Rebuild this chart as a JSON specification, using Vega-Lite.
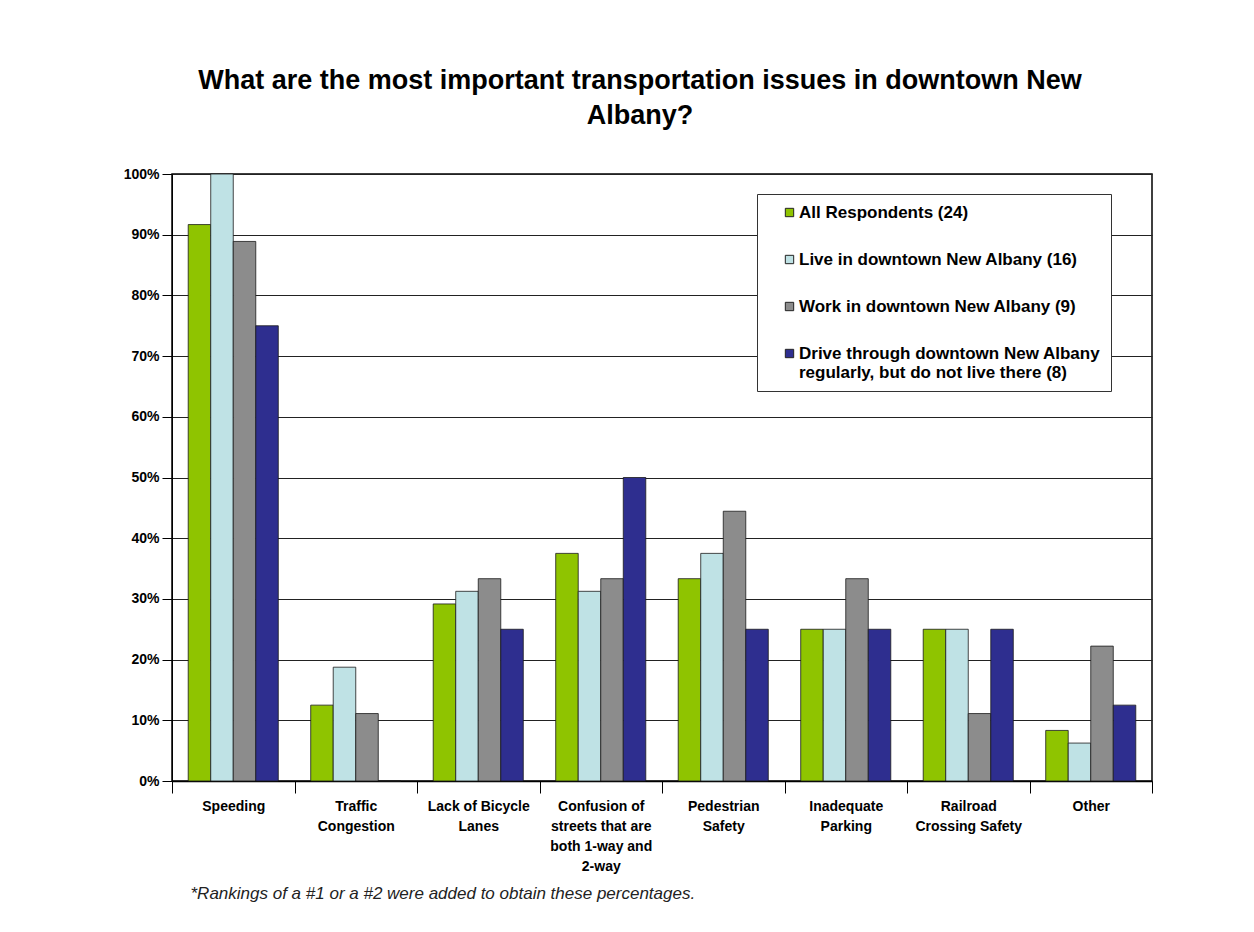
{
  "$schema": "https://vega.github.io/schema/vega-lite/v6.json",
  "autosize": {"type": "none"},
  "width": 980,
  "height": 607,
  "padding": {"left": 172, "top": 174, "right": 102, "bottom": 151},
  "background": "white",
  "title": {
    "text": ["What are the most important transportation issues in downtown New", "Albany?"],
    "font": "Liberation Sans",
    "fontSize": 27,
    "fontWeight": "bold",
    "color": "black",
    "anchor": "middle",
    "dx": -22,
    "offset": 37,
    "lineHeight": 35
  },
  "data": {
    "values": [
      {"issue": "Speeding", "group": "All Respondents (24)", "pct": 0.9167},
      {"issue": "Speeding", "group": "Live in downtown New Albany (16)", "pct": 1.0},
      {"issue": "Speeding", "group": "Work in downtown New Albany (9)", "pct": 0.8889},
      {"issue": "Speeding", "group": "Drive through downtown New Albany regularly, but do not live there (8)", "pct": 0.75},
      {"issue": "Traffic Congestion", "group": "All Respondents (24)", "pct": 0.125},
      {"issue": "Traffic Congestion", "group": "Live in downtown New Albany (16)", "pct": 0.1875},
      {"issue": "Traffic Congestion", "group": "Work in downtown New Albany (9)", "pct": 0.1111},
      {"issue": "Traffic Congestion", "group": "Drive through downtown New Albany regularly, but do not live there (8)", "pct": 0.0},
      {"issue": "Lack of Bicycle Lanes", "group": "All Respondents (24)", "pct": 0.2917},
      {"issue": "Lack of Bicycle Lanes", "group": "Live in downtown New Albany (16)", "pct": 0.3125},
      {"issue": "Lack of Bicycle Lanes", "group": "Work in downtown New Albany (9)", "pct": 0.3333},
      {"issue": "Lack of Bicycle Lanes", "group": "Drive through downtown New Albany regularly, but do not live there (8)", "pct": 0.25},
      {"issue": "Confusion of streets that are both 1-way and 2-way", "group": "All Respondents (24)", "pct": 0.375},
      {"issue": "Confusion of streets that are both 1-way and 2-way", "group": "Live in downtown New Albany (16)", "pct": 0.3125},
      {"issue": "Confusion of streets that are both 1-way and 2-way", "group": "Work in downtown New Albany (9)", "pct": 0.3333},
      {"issue": "Confusion of streets that are both 1-way and 2-way", "group": "Drive through downtown New Albany regularly, but do not live there (8)", "pct": 0.5},
      {"issue": "Pedestrian Safety", "group": "All Respondents (24)", "pct": 0.3333},
      {"issue": "Pedestrian Safety", "group": "Live in downtown New Albany (16)", "pct": 0.375},
      {"issue": "Pedestrian Safety", "group": "Work in downtown New Albany (9)", "pct": 0.4444},
      {"issue": "Pedestrian Safety", "group": "Drive through downtown New Albany regularly, but do not live there (8)", "pct": 0.25},
      {"issue": "Inadequate Parking", "group": "All Respondents (24)", "pct": 0.25},
      {"issue": "Inadequate Parking", "group": "Live in downtown New Albany (16)", "pct": 0.25},
      {"issue": "Inadequate Parking", "group": "Work in downtown New Albany (9)", "pct": 0.3333},
      {"issue": "Inadequate Parking", "group": "Drive through downtown New Albany regularly, but do not live there (8)", "pct": 0.25},
      {"issue": "Railroad Crossing Safety", "group": "All Respondents (24)", "pct": 0.25},
      {"issue": "Railroad Crossing Safety", "group": "Live in downtown New Albany (16)", "pct": 0.25},
      {"issue": "Railroad Crossing Safety", "group": "Work in downtown New Albany (9)", "pct": 0.1111},
      {"issue": "Railroad Crossing Safety", "group": "Drive through downtown New Albany regularly, but do not live there (8)", "pct": 0.25},
      {"issue": "Other", "group": "All Respondents (24)", "pct": 0.0833},
      {"issue": "Other", "group": "Live in downtown New Albany (16)", "pct": 0.0625},
      {"issue": "Other", "group": "Work in downtown New Albany (9)", "pct": 0.2222},
      {"issue": "Other", "group": "Drive through downtown New Albany regularly, but do not live there (8)", "pct": 0.125}
    ]
  },
  "mark": {"type": "bar", "stroke": "#1a1a1a", "strokeWidth": 0.8},
  "encoding": {
    "x": {
      "field": "issue",
      "type": "nominal",
      "sort": null,
      "scale": {"paddingInner": 0, "paddingOuter": 0},
      "axis": {
        "title": "*Rankings of a #1 or a #2 were added to obtain these percentages.",
        "titleFont": "Liberation Sans",
        "titleFontSize": 17,
        "titleFontWeight": "normal",
        "titleFontStyle": "italic",
        "titleColor": "#222",
        "titleAnchor": "start",
        "titleAlign": "left",
        "titleBaseline": "middle",
        "titleX": 18,
        "titleY": 112,
        "labelAngle": 0,
        "labelFont": "Liberation Sans",
        "labelFontSize": 14,
        "labelFontWeight": "bold",
        "labelColor": "black",
        "labelPadding": 6,
        "labelLineHeight": 20,
        "labelBaseline": "top",
        "labelExpr": "datum.value == 'Traffic Congestion' ? ['Traffic', 'Congestion'] : datum.value == 'Lack of Bicycle Lanes' ? ['Lack of Bicycle', 'Lanes'] : datum.value == 'Confusion of streets that are both 1-way and 2-way' ? ['Confusion of', 'streets that are', 'both 1-way and', '2-way'] : datum.value == 'Pedestrian Safety' ? ['Pedestrian', 'Safety'] : datum.value == 'Inadequate Parking' ? ['Inadequate', 'Parking'] : datum.value == 'Railroad Crossing Safety' ? ['Railroad', 'Crossing Safety'] : datum.value",
        "tickBand": "extent",
        "tickSize": 12,
        "tickColor": "black",
        "domainColor": "black",
        "domainWidth": 1.5
      }
    },
    "xOffset": {
      "field": "group",
      "type": "nominal",
      "sort": ["All Respondents (24)", "Live in downtown New Albany (16)", "Work in downtown New Albany (9)", "Drive through downtown New Albany regularly, but do not live there (8)"],
      "scale": {"paddingInner": 0, "paddingOuter": 0.72}
    },
    "y": {
      "field": "pct",
      "type": "quantitative",
      "scale": {"domain": [0, 1], "nice": false},
      "axis": {
        "title": null,
        "format": ".0%",
        "values": [0, 0.1, 0.2, 0.3, 0.4, 0.5, 0.6, 0.7, 0.8, 0.9, 1.0],
        "labelOverlap": false,
        "labelFont": "Liberation Sans",
        "labelFontSize": 14,
        "labelFontWeight": "bold",
        "labelColor": "black",
        "labelPadding": 3,
        "tickSize": 10,
        "tickColor": "black",
        "domainColor": "black",
        "grid": true,
        "gridColor": "#222",
        "gridWidth": 1
      }
    },
    "color": {
      "field": "group",
      "type": "nominal",
      "scale": {
        "domain": ["All Respondents (24)", "Live in downtown New Albany (16)", "Work in downtown New Albany (9)", "Drive through downtown New Albany regularly, but do not live there (8)"],
        "range": ["#8fc400", "#bfe2e5", "#8c8c8c", "#2e2e8f"]
      },
      "legend": {
        "title": null,
        "orient": "none",
        "legendX": 585,
        "legendY": 20,
        "padding": 10,
        "fillColor": "white",
        "strokeColor": "#333",
        "symbolType": "square",
        "symbolSize": 70,
        "symbolStrokeColor": "#222",
        "symbolStrokeWidth": 1,
        "symbolOffset": 14,
        "labelFont": "Liberation Sans",
        "labelFontSize": 17,
        "labelFontWeight": "bold",
        "labelColor": "black",
        "labelLimit": 400,
        "labelOffset": 1,
        "rowPadding": 29,
        "labelExpr": "datum.value == 'Drive through downtown New Albany regularly, but do not live there (8)' ? ['Drive through downtown New Albany', 'regularly, but do not live there (8)'] : datum.value"
      }
    }
  },
  "config": {
    "view": {"stroke": "black", "strokeWidth": 1.5},
    "font": "Liberation Sans"
  }
}
